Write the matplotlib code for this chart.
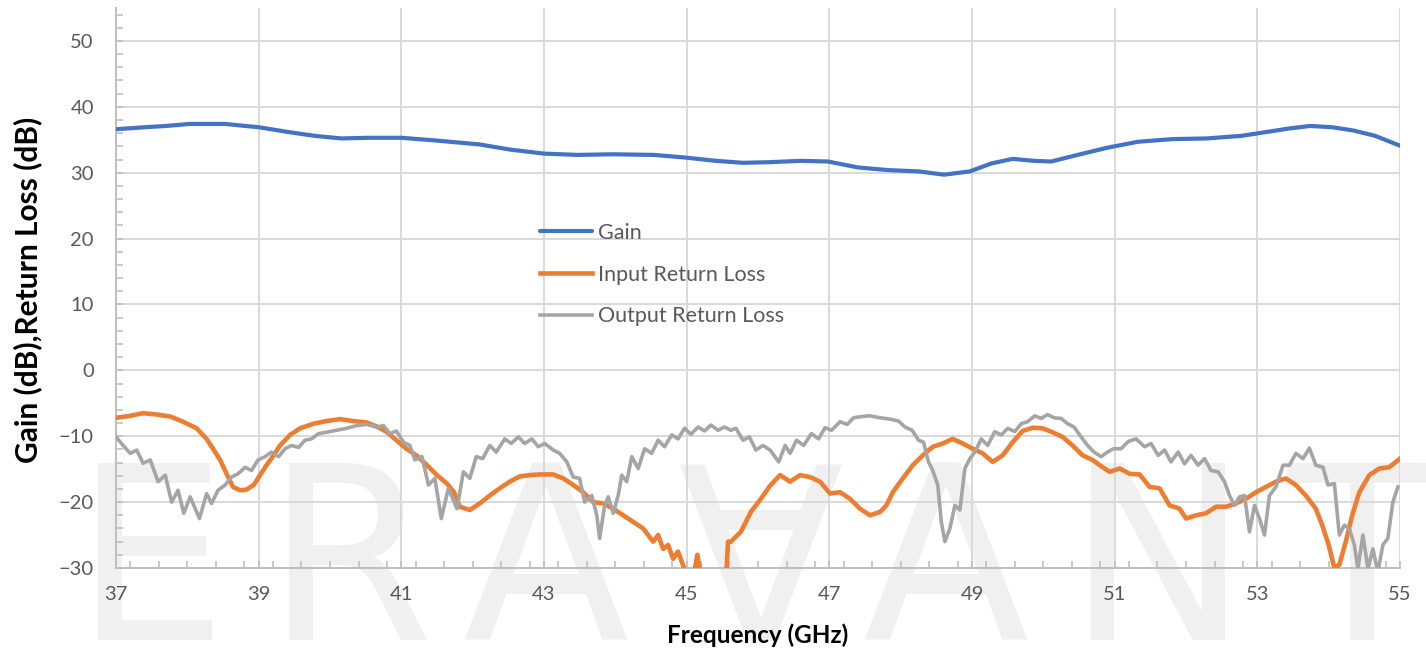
import matplotlib
matplotlib.use("Agg")
import matplotlib.pyplot as plt
from matplotlib.ticker import MultipleLocator

# ---------------- data ----------------
gain_f = [37.0, 37.40, 37.71, 38.03, 38.53, 39.0, 39.40, 39.78, 40.16, 40.53, 41.0, 41.47,
          42.09, 42.53, 43.0, 43.47, 43.97, 44.54, 44.98, 45.41, 45.79, 46.17, 46.59, 46.98,
          47.40, 47.82, 48.25, 48.61, 48.97, 49.27, 49.57, 49.87, 50.11, 50.48, 50.90, 51.33,
          51.81, 52.29, 52.78, 53.14, 53.44, 53.74, 54.05, 54.35, 54.65, 55.0]
gain_db = [36.6, 36.9, 37.1, 37.4, 37.4, 36.9, 36.2, 35.6, 35.2, 35.3, 35.3, 34.9,
           34.3, 33.5, 32.9, 32.7, 32.8, 32.7, 32.3, 31.8, 31.5, 31.6, 31.8, 31.7,
           30.8, 30.4, 30.2, 29.7, 30.2, 31.4, 32.1, 31.8, 31.7, 32.7, 33.8, 34.7,
           35.1, 35.2, 35.6, 36.2, 36.7, 37.1, 36.9, 36.4, 35.6, 34.1]

irl_f = [37.00, 37.20, 37.38, 37.57, 37.76, 37.94, 38.13, 38.27, 38.36, 38.46, 38.55, 38.64,
         38.74, 38.83, 38.93, 39.02, 39.11, 39.21, 39.30, 39.44, 39.58, 39.77, 39.95, 40.14,
         40.33, 40.51, 40.65, 40.79, 40.93, 41.07, 41.21, 41.36, 41.50, 41.64, 41.74, 41.82,
         41.96, 42.10, 42.24, 42.38, 42.52, 42.66, 42.80, 42.94, 43.13, 43.27, 43.41, 43.55,
         43.69, 43.83, 43.97, 44.11, 44.25, 44.39, 44.53, 44.60, 44.67, 44.74, 44.81, 44.88,
         44.95, 45.02, 45.10, 45.15, 45.20, 45.40, 45.55, 45.58, 45.62, 45.76, 45.90, 46.04,
         46.17, 46.31, 46.45, 46.59, 46.73, 46.87, 47.01, 47.15, 47.29, 47.43, 47.57, 47.71,
         47.80, 47.89, 48.03, 48.17, 48.31, 48.45, 48.59, 48.73, 48.87, 49.01, 49.15, 49.29,
         49.43, 49.57, 49.71, 49.85, 49.99, 50.13, 50.27, 50.41, 50.55, 50.69, 50.83, 50.93,
         51.07, 51.21, 51.35, 51.49, 51.63, 51.77, 51.91, 52.00, 52.14, 52.28, 52.42, 52.56,
         52.70, 52.84, 52.98, 53.12, 53.26, 53.40, 53.54, 53.68, 53.82, 53.91, 54.00, 54.08,
         54.15, 54.24, 54.33, 54.43, 54.57, 54.71, 54.85, 55.00]
irl_db = [-7.2, -6.9, -6.5, -6.7, -7.0, -7.8, -8.8, -10.4, -11.9, -13.6, -15.7, -17.7,
          -18.2, -18.1, -17.4, -15.9, -14.4, -12.9, -11.4, -9.8, -8.8, -8.1, -7.7, -7.4,
          -7.7, -7.9, -8.5, -9.3, -10.6, -11.9, -12.9, -14.4, -15.9, -17.2, -18.5, -20.7,
          -21.2, -20.2, -19.0, -17.9, -16.9, -16.1, -15.9, -15.8, -15.8, -16.4, -17.4, -18.5,
          -20.0, -20.2, -21.0, -22.0, -23.0, -24.0, -26.0, -25.0, -27.1, -26.5, -28.6, -27.5,
          -29.6, -31.5, -31.0, -28.0, -31.0, -33.0, -32.0, -26.0, -26.0, -24.5, -21.5, -19.5,
          -17.5, -15.9, -16.9, -15.9, -16.2, -16.9, -18.7, -18.5, -19.5, -21.0, -22.0, -21.5,
          -20.5, -18.5, -16.4, -14.4, -12.9, -11.6, -11.1, -10.4, -11.1, -11.9, -12.6, -13.9,
          -12.9, -10.9, -9.2, -8.7, -8.8, -9.4, -10.1, -11.4, -12.9, -13.6, -14.7, -15.4,
          -14.9, -15.7, -15.8, -17.7, -17.9, -20.5, -21.0, -22.5, -22.0, -21.7, -20.7, -20.7,
          -20.2, -19.5, -18.5, -17.7, -16.9, -16.4, -17.4, -19.0, -21.0, -23.5, -26.5, -30.0,
          -29.5, -26.0, -22.0, -18.5, -15.9, -14.9, -14.7, -13.4]

orl_f = [37.00, 37.10, 37.20, 37.29, 37.38, 37.48, 37.59, 37.69, 37.78, 37.87, 37.95, 38.04,
         38.11, 38.17, 38.27, 38.34, 38.43, 38.53, 38.62, 38.71, 38.81, 38.90, 38.99, 39.09,
         39.18, 39.28, 39.37, 39.46, 39.56, 39.65, 39.74, 39.84, 39.95, 40.09, 40.23, 40.37,
         40.51, 40.65, 40.75, 40.84, 40.93, 41.03, 41.12, 41.19, 41.29, 41.38, 41.47, 41.56,
         41.66, 41.78, 41.87, 41.96, 42.05, 42.14, 42.24, 42.33, 42.45, 42.54, 42.64, 42.73,
         42.83, 42.92, 43.01, 43.13, 43.22, 43.32, 43.41, 43.50, 43.57, 43.67, 43.74, 43.78,
         43.85, 43.90, 43.97, 44.04, 44.09, 44.16, 44.23, 44.32, 44.41, 44.51, 44.60, 44.69,
         44.79, 44.88, 44.97, 45.06, 45.16, 45.25, 45.34, 45.44, 45.53, 45.62, 45.69, 45.79,
         45.88, 45.97, 46.07, 46.17, 46.29, 46.38, 46.45, 46.54, 46.64, 46.75, 46.85, 46.94,
         47.03, 47.15, 47.25, 47.34, 47.46, 47.57, 47.71, 47.85, 47.97, 48.06, 48.16, 48.25,
         48.32, 48.39, 48.45, 48.52, 48.57, 48.62, 48.69, 48.76, 48.83, 48.90, 48.97, 49.04,
         49.13, 49.22, 49.32, 49.41, 49.50, 49.60, 49.69, 49.78, 49.88, 49.97, 50.06, 50.15,
         50.25, 50.34, 50.43, 50.53, 50.62, 50.71, 50.81, 50.90, 50.98, 51.09, 51.19, 51.30,
         51.42, 51.51, 51.61, 51.70, 51.79, 51.89, 51.98, 52.07, 52.17, 52.26, 52.35, 52.45,
         52.54, 52.61, 52.68, 52.75, 52.82, 52.89, 52.96, 53.03, 53.10, 53.17, 53.26, 53.36,
         53.45, 53.54, 53.64, 53.73, 53.82, 53.92, 53.99, 54.08, 54.15, 54.22, 54.29, 54.36,
         54.41, 54.48, 54.55, 54.62, 54.69, 54.76, 54.83, 54.90, 54.97]
orl_db = [-10.1, -11.4, -12.6, -12.1, -14.1, -13.6, -16.9, -15.9, -20.0, -18.2, -21.7, -19.2,
          -21.0, -22.5, -18.7, -20.2, -18.2, -17.4, -16.2, -15.7, -14.7, -15.2, -13.6, -13.1,
          -12.4, -13.1, -11.9, -11.4, -11.7, -10.6, -10.4, -9.6, -9.4, -9.1, -8.8, -8.4,
          -8.2, -8.6, -8.4, -9.6, -9.2, -10.9, -11.4, -13.6, -13.1, -17.4, -16.4, -22.5,
          -17.9, -21.0, -15.4, -16.4, -13.1, -13.4, -11.4, -12.4, -10.4, -11.1, -10.1, -11.1,
          -10.4, -11.6, -11.1, -12.1, -12.6, -13.9, -16.2, -16.4, -20.0, -19.0, -22.0, -25.5,
          -20.5, -19.2, -21.7, -19.0, -15.9, -16.9, -13.1, -14.9, -11.9, -12.6, -10.6, -11.6,
          -9.8, -10.4, -8.8, -9.7, -8.6, -9.2, -8.3, -9.1, -8.6, -9.1, -8.8, -10.6,
          -10.1, -12.1, -11.4, -12.1, -13.9, -11.4, -12.6, -10.6, -11.4, -9.6, -10.4, -8.7,
          -9.1, -7.8, -8.2, -7.2, -7.0, -6.9, -7.2, -7.4, -7.7, -8.6, -9.1, -10.6,
          -10.9, -13.9, -15.2, -17.4, -23.0, -26.0, -24.0, -20.5, -21.2, -14.9, -13.4, -12.4,
          -10.4, -11.4, -9.3, -9.8, -8.8, -9.3, -8.1, -7.8, -6.9, -7.3, -6.7, -7.2,
          -7.3, -8.1, -8.6, -10.1, -11.4, -12.4, -13.1, -12.4, -11.9, -11.9, -10.8, -10.4,
          -11.6, -11.1, -12.9, -12.1, -13.9, -12.4, -14.2, -12.9, -14.4, -13.4, -15.2, -15.4,
          -16.9, -19.0, -20.5, -19.2, -19.0, -24.5, -20.5, -22.5, -25.0, -19.0, -17.7, -14.4,
          -14.4, -12.6, -13.4, -11.8, -14.4, -14.7, -17.4, -17.2, -25.0, -23.5, -24.0, -26.5,
          -30.1, -25.0, -30.1, -27.1, -30.6, -26.5, -25.5, -20.0, -17.7]

series_labels = ["Gain", "Input Return Loss", "Output Return Loss"]
x_ticks = [37, 39, 41, 43, 45, 47, 49, 51, 53, 55]
y_ticks = [-30, -20, -10, 0, 10, 20, 30, 40, 50]
watermark_letters = ["E", "R", "A", "A", "A", "N", "T"]

# ---------------- figure ----------------
FONT = ["Lato", "DejaVu Sans"]
plt.rcParams["font.family"] = FONT

W, H = 1426, 654
fig = plt.figure(figsize=(W / 100, H / 100), dpi=100)
ax = fig.add_axes([116 / W, 1 - 568 / H, (1400 - 116) / W, (568 - 8) / H])
ax.patch.set_alpha(0)

# watermark
wm_color = "#f0f0f0"
wm_x = [150, 349, 545, 758, 945, 1157, 1362]
for i, (ch, xc) in enumerate(zip(watermark_letters, wm_x)):
    if i == 3:
        fig.text(xc / W, 1 - 463 / H, ch, fontsize=175, color=wm_color, ha="center",
                 va="baseline", rotation=180, rotation_mode="anchor", zorder=-5,
                 family="DejaVu Sans")
    else:
        fig.text(xc / W, 1 - 640 / H, ch, fontsize=175, color=wm_color, ha="center",
                 va="baseline", zorder=-5, family="DejaVu Sans")

ax.plot(gain_f, gain_db, color="#4472C4", lw=3.0, label=series_labels[0], zorder=3,
        solid_capstyle="round")
ax.plot(irl_f, irl_db, color="#ED7D31", lw=3.3, label=series_labels[1], zorder=3,
        solid_joinstyle="round")
ax.plot(orl_f, orl_db, color="#A5A5A5", lw=2.6, label=series_labels[2], zorder=3,
        solid_joinstyle="round")

ax.set_xlim(37, 55)
ax.set_ylim(-30, 55)
ax.set_xticks(x_ticks)
ax.set_yticks(y_ticks)
ax.xaxis.set_minor_locator(MultipleLocator(0.4))
ax.yaxis.set_minor_locator(MultipleLocator(2))
ax.grid(True, which="major", color="#D9D9D9", lw=1.4, zorder=0)
ax.set_axisbelow(True)

for s in ["top", "right"]:
    ax.spines[s].set_visible(False)
for s in ["left", "bottom"]:
    ax.spines[s].set_color("#BFBFBF")
    ax.spines[s].set_linewidth(1.4)

ax.tick_params(which="both", direction="in", color="#BFBFBF", width=1.2)
ax.tick_params(which="minor", length=5)
ax.tick_params(which="major", length=5)
ax.tick_params(axis="x", which="major", labelsize=14.5, labelcolor="#595959", pad=13)
ax.tick_params(axis="y", which="major", labelsize=14.5, labelcolor="#595959", pad=16)

ax.set_xlabel("Frequency (GHz)", fontsize=17.5, fontweight="bold", color="black")
ax.xaxis.set_label_coords(0.5, (568 - 623) / 560)
ax.set_ylabel("Gain (dB),Return Loss (dB)", fontsize=21.5, fontweight="bold", color="black")
ax.yaxis.set_label_coords((42 - 116) / 1284, 0.497)

leg = ax.legend(loc="upper left", bbox_to_anchor=(540 / W, 1 - 223 / H),
                bbox_transform=fig.transFigure, frameon=False, fontsize=15.5,
                handlelength=2.4, handletextpad=0.28, labelspacing=1.0,
                borderpad=0, borderaxespad=0)
for t in leg.get_texts():
    t.set_color("#595959")

fig.savefig("out.png", dpi=100)
